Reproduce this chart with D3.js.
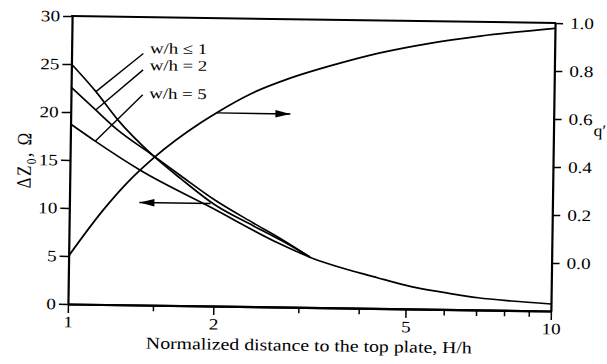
<!DOCTYPE html>
<html><head><meta charset="utf-8">
<script src="https://cdn.jsdelivr.net/npm/d3@7"></script>
<style>body{margin:0;background:#fff}svg{display:block}</style>
</head><body>
<script>
// ---- data ----
const xTickValues = [1, 2, 5, 10];
const xMinorTicks = [1.5, 3, 4, 6, 7, 8, 9];
const leftTickValues = [0, 5, 10, 15, 20, 25, 30];
const rightTickValues = [0.0, 0.2, 0.4, 0.6, 0.8, 1.0];
const seriesNames = ["w/h ≤ 1", "w/h = 2", "w/h = 5"];
const hW1 = [1, 1.126, 1.25, 1.48, 1.7, 2.0, 2.4, 2.75, 3.16];
const dzW1 = [25.0, 22.16, 19.3, 15.65, 13.2, 10.55, 8.45, 6.95, 5.25];
const hW2 = [1, 1.126, 1.25, 1.48, 1.7, 2.0, 2.4, 2.75, 3.16];
const dzW2 = [22.6, 20.25, 18.23, 15.65, 13.5, 11.05, 8.75, 7.1, 5.25];
const hW5 = [1, 1.126, 1.396, 1.98, 2.72, 3.14, 4.38, 5.13, 6.03, 7.06, 8.27, 10];
const dzW5 = [18.75, 17.0, 14.06, 10.19, 6.64, 5.29, 3.18, 2.32, 1.75, 1.27, 0.98, 0.73];
const qH = [1, 1.176, 1.312, 1.5, 1.853, 2.006, 2.348, 2.84, 3.49, 4.35, 5.51, 7.0, 10];
const qValues = [0.0, 0.194, 0.306, 0.419, 0.561, 0.606, 0.685, 0.754, 0.812, 0.865, 0.908, 0.941, 0.978];
const leaderH = [1.126, 1.408];
const leaderTopZ = [26.2, 24.5, 21.9];
const labelH = 1.453;
const labelZ = [26.75, 25.0, 22.06];
const leftArrowH = [1.96, 1.396], leftArrowZ = 10.68;
const rightArrowH = [2.006, 2.85], rightArrowQ = 0.605;

// ---- layout ----
const W = 607, H = 364;
const L = 70, R = 553, T = 19.5, B = 307.5;
const SX = 1.2; // horizontal text stretch of the scanned figure
const FONT = "'Liberation Serif','Times New Roman',serif";

const svg = d3.select("body").append("svg").attr("width", W).attr("height", H);
const g = svg.append("g").attr("transform", `rotate(0.83 ${(L+R)/2} ${(T+B)/2})`)
  .style("font-family", FONT);

const x = d3.scaleLog().domain([1, 10]).range([L, R]);
const yL = d3.scaleLinear().domain([0, 30]).range([B, T]);
const yR = d3.scaleLinear().domain([-0.2, 1.0]).range([B, T]);

function stretch(sel) {
  sel.each(function () {
    const t = d3.select(this);
    const x0 = +t.attr("x") || 0;
    t.attr("x", x0 / SX).attr("transform", `scale(${SX},1)`);
  });
}
function styleAxis(ax, fs) {
  ax.select(".domain").attr("stroke", "#000").attr("stroke-width", 2.2);
  ax.selectAll(".tick line").attr("stroke", "#000").attr("stroke-width", 1.5);
  ax.selectAll(".tick text").attr("fill", "#000").style("font-size", fs + "px").style("font-family", FONT);
}

// left axis
const axL = g.append("g").attr("transform", `translate(${L},0)`)
  .call(d3.axisLeft(yL).tickValues(leftTickValues).tickSize(9).tickSizeOuter(0).tickPadding(3));
styleAxis(axL, 16); stretch(axL.selectAll(".tick text"));

// right axis
const axR = g.append("g").attr("transform", `translate(${R},0)`)
  .call(d3.axisRight(yR).tickValues(rightTickValues).tickFormat(d3.format(".1f")).tickSize(8).tickSizeOuter(0).tickPadding(7));
styleAxis(axR, 16); stretch(axR.selectAll(".tick text"));

// bottom axis: minor ticks then major
const axBm = g.append("g").attr("transform", `translate(0,${B})`)
  .call(d3.axisBottom(x).tickValues(xMinorTicks).tickSize(6).tickSizeOuter(0).tickFormat(""));
styleAxis(axBm, 16);
const axB = g.append("g").attr("transform", `translate(0,${B})`)
  .call(d3.axisBottom(x).tickValues(xTickValues).tickFormat(d3.format("d")).tickSize(9).tickSizeOuter(0).tickPadding(3));
styleAxis(axB, 16); stretch(axB.selectAll(".tick text"));

// top frame line
g.append("line").attr("x1", x(1) - 1).attr("x2", x(10) + 1).attr("y1", yL(30)).attr("y2", yL(30))
  .attr("stroke", "#000").attr("stroke-width", 2);

// curves
const mk = (ys) => d3.line().x(d => x(d[0])).y(d => ys(d[1])).curve(d3.curveMonotoneX);
const series = [d3.zip(hW1, dzW1), d3.zip(hW2, dzW2), d3.zip(hW5, dzW5)];
series.forEach(s => g.append("path").attr("d", mk(yL)(s)).attr("fill", "none")
  .attr("stroke", "#000").attr("stroke-width", 1.7));
g.append("path").attr("d", mk(yR)(d3.zip(qH, qValues))).attr("fill", "none")
  .attr("stroke", "#000").attr("stroke-width", 1.8);

// leader lines + labels
series.forEach((s, i) => {
  const p = s.find(d => d[0] === leaderH[0]);
  g.append("line").attr("x1", x(p[0])).attr("y1", yL(p[1]))
    .attr("x2", x(leaderH[1])).attr("y2", yL(leaderTopZ[i]))
    .attr("stroke", "#000").attr("stroke-width", 1.4);
  g.append("text").attr("transform", `translate(${x(labelH)},${yL(labelZ[i]) + 5}) scale(1.25,1)`)
    .style("font-size", "15px").text(seriesNames[i]);
});

// arrows
function arrow(x1, y1, x2, y2) {
  g.append("line").attr("x1", x1).attr("y1", y1).attr("x2", x2).attr("y2", y2)
    .attr("stroke", "#000").attr("stroke-width", 1.4);
  const dir = Math.sign(x2 - x1), len = 15, hw = 3.8;
  g.append("path").attr("d", `M${x2},${y2}L${x2 - dir * len},${y2 - hw}L${x2 - dir * len},${y2 + hw}Z`)
    .attr("fill", "#000");
}
arrow(x(leftArrowH[0]), yL(leftArrowZ), x(leftArrowH[1]), yL(leftArrowZ));
arrow(x(rightArrowH[0]), yR(rightArrowQ), x(rightArrowH[1]), yR(rightArrowQ));

// axis titles
g.append("text").attr("transform", `translate(${(L + R) / 2},351) scale(${SX},1)`)
  .attr("text-anchor", "middle").style("font-size", "16.5px")
  .text("Normalized distance to the top plate, H/h");

const yt = g.append("text").attr("transform", `translate(31,164) rotate(-90) scale(1,${SX})`)
  .attr("text-anchor", "middle").style("font-size", "17px").style("letter-spacing", "1.5px");
yt.append("tspan").text("ΔZ");
yt.append("tspan").attr("dy", 4).style("font-size", "11px").text("0");
yt.append("tspan").attr("dy", -4).text(",  Ω");

g.append("text").attr("transform", `translate(593,131.8) scale(1.1,1)`)
  .style("font-size", "16px").text("q′");
</script>
</body></html>
